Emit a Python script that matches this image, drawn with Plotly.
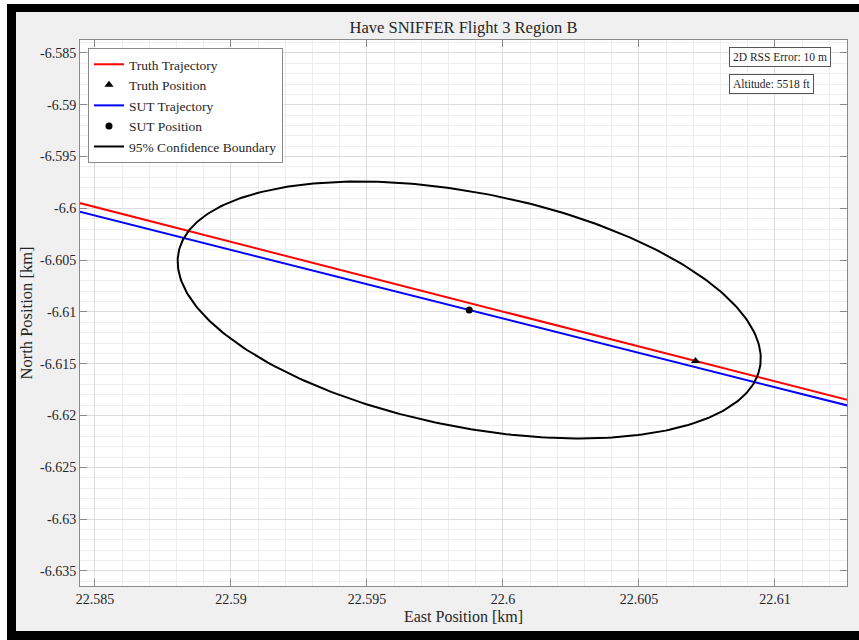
import numpy as np
import plotly.graph_objects as go

# ---- data (km) ----
truth_east = [22.583, 22.590, 22.600, 22.610, 22.614]
truth_north = [-6.59852, -6.60324, -6.60997, -6.61670, -6.61939]

sut_east = [22.583, 22.590, 22.600, 22.610, 22.614]
sut_north = [-6.59937, -6.60401, -6.61063, -6.61726, -6.61991]

truth_pos = [22.60708, -6.61473]
sut_pos = [22.59876, -6.60981]

# SUT position error covariance (m^2) and 95% chi-square gate (2 dof)
cov_m2 = [[19.18, -8.38], [-8.38, 25.67]]
chi2_95 = 5.991

rss_error_m = 10
altitude_ft = 5518

x_ticks = [22.585, 22.59, 22.595, 22.6, 22.605, 22.61]
x_labels = ["22.585", "22.59", "22.595", "22.6", "22.605", "22.61"]
y_ticks = [-6.585, -6.59, -6.595, -6.6, -6.605, -6.61, -6.615, -6.62,
           -6.625, -6.63, -6.635]
y_labels = ["-6.585", "-6.59", "-6.595", "-6.6", "-6.605", "-6.61", "-6.615",
            "-6.62", "-6.625", "-6.63", "-6.635"]

x_range = [22.58445, 22.61265]
y_range = [-6.63645, -6.58375]

# ---- 95% confidence ellipse around the SUT position ----
vals, vecs = np.linalg.eigh(np.array(cov_m2))
t = np.linspace(0, 2 * np.pi, 361)
circle = np.vstack([np.cos(t), np.sin(t)])
pts = vecs @ (np.sqrt(chi2_95 * vals)[:, None] * circle)  # metres
ell_east = sut_pos[0] + pts[0] / 1000.0
ell_north = sut_pos[1] + pts[1] / 1000.0

FONT = "Liberation Serif"
TXT = "#262626"
AXC = "#8a8a8a"

fig = go.Figure()
fig.add_trace(go.Scatter(x=truth_east, y=truth_north, mode="lines",
                         line=dict(color="#ff0000", width=2),
                         name="Truth Trajectory"))
fig.add_trace(go.Scatter(x=[truth_pos[0]], y=[truth_pos[1]], mode="markers",
                         marker=dict(symbol="triangle-up", size=8, color="black"),
                         name="Truth Position"))
fig.add_trace(go.Scatter(x=sut_east, y=sut_north, mode="lines",
                         line=dict(color="#0000ff", width=2),
                         name="SUT Trajectory"))
fig.add_trace(go.Scatter(x=[sut_pos[0]], y=[sut_pos[1]], mode="markers",
                         marker=dict(symbol="circle", size=7, color="black"),
                         name="SUT Position"))
fig.add_trace(go.Scatter(x=ell_east, y=ell_north, mode="lines",
                         line=dict(color="black", width=2),
                         name="95% Confidence Boundary"))

W, H = 859, 640
ML, MR, MT, MB = 80, 12, 40, 54
PW, PH = W - ML - MR, H - MT - MB


def px(xp):
    return (xp - ML) / PW


def py(yp):
    return 1 - (yp - MT) / PH


axis_common = dict(
    showline=True, linecolor=AXC, linewidth=1, mirror="ticks",
    ticks="inside", ticklen=7, tickcolor=AXC, tickwidth=1,
    showgrid=True, gridcolor="#dcdcdc", gridwidth=1,
    zeroline=False,
    tickfont=dict(family=FONT, size=14, color=TXT),
)

fig.update_xaxes(range=x_range, tickvals=x_ticks, ticktext=x_labels,
                 minor=dict(dtick=0.001, tick0=22.585, showgrid=True,
                            gridcolor="#eeeeee", ticks=""),
                 title=dict(text="East Position [km]", standoff=5,
                            font=dict(family=FONT, size=16, color=TXT)),
                 **axis_common)
fig.update_yaxes(range=y_range, tickvals=y_ticks, ticktext=y_labels,
                 minor=dict(dtick=0.001, tick0=-6.635, showgrid=True,
                            gridcolor="#eeeeee", ticks=""),
                 title=dict(text="North Position [km]", standoff=3,
                            font=dict(family=FONT, size=16.5, color=TXT)),
                 **axis_common)

# black window frame on top, left and bottom edges
frame = [
    (0, 7, 0, 640, "white"),
    (0, 859, 0, 4, "white"),
    (7, 16, 4, 640, "black"),
    (7, 859, 4, 12, "black"),
    (7, 859, 631, 640, "black"),
]
shapes = [dict(type="rect", xref="paper", yref="paper",
               x0=px(a), x1=px(b), y0=py(d), y1=py(c),
               fillcolor=col, line=dict(width=0), layer="above")
          for a, b, c, d, col in frame]

annotations = [
    dict(text=f"2D RSS Error: {rss_error_m} m", xref="paper", yref="paper",
         x=px(729), y=py(47), xanchor="left", yanchor="top", showarrow=False,
         font=dict(family=FONT, size=11.5, color=TXT), bgcolor="white",
         bordercolor="#555555", borderwidth=1, borderpad=3),
    dict(text=f"Altitude: {altitude_ft} ft", xref="paper", yref="paper",
         x=px(729), y=py(74), xanchor="left", yanchor="top", showarrow=False,
         font=dict(family=FONT, size=11.5, color=TXT), bgcolor="white",
         bordercolor="#555555", borderwidth=1, borderpad=3),
]

fig.update_layout(
    width=W, height=H,
    margin=dict(l=ML, r=MR, t=MT, b=MB),
    paper_bgcolor="#f0f0f0", plot_bgcolor="white",
    title=dict(text="Have SNIFFER Flight 3 Region B", x=0.5, xref="paper",
               y=1 - 27 / H, yanchor="middle",
               font=dict(family=FONT, size=16.5, color=TXT)),
    legend=dict(x=px(88), y=py(48), xanchor="left", yanchor="top",
                bgcolor="white", bordercolor=AXC, borderwidth=1,
                font=dict(family=FONT, size=13.5, color=TXT),
                tracegroupgap=0, itemwidth=30),
    shapes=shapes,
    annotations=annotations,
    showlegend=True,
)

fig.write_html("out.html")
